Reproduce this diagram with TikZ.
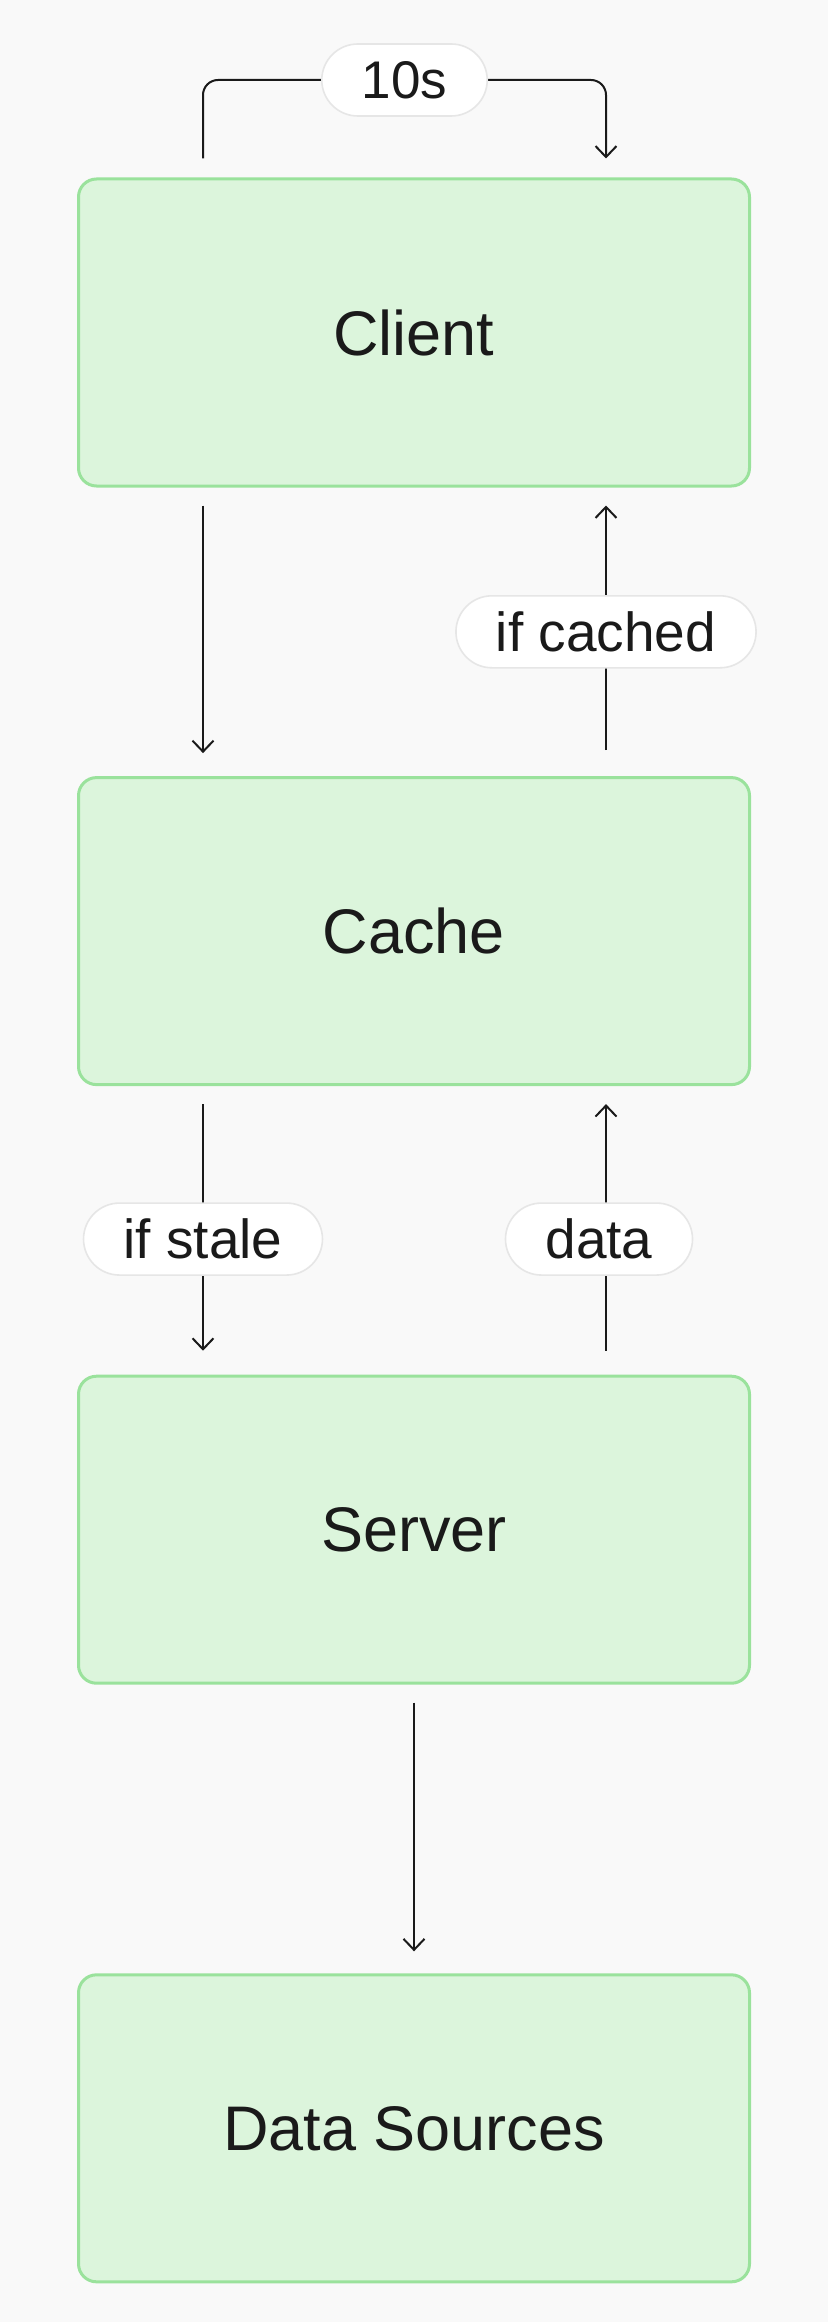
\documentclass[tikz,border=0pt]{standalone}
\usepackage{fontspec}
\setmainfont{Liberation Sans}
\usepackage{tikz}
\usetikzlibrary{arrows.meta,positioning}
\definecolor{boxfill}{HTML}{DCF5DC}
\definecolor{boxline}{HTML}{9AE29C}
\definecolor{pageback}{HTML}{F9F9F9}
\definecolor{tagline}{HTML}{E6E6E6}
\definecolor{ink}{HTML}{1A1A1A}

\begin{document}
\begin{tikzpicture}[x=0.5pt,y=-0.5pt,
  block/.style={draw=boxline,fill=boxfill,line width=1.5pt,rounded corners=9pt,minimum width=335.5pt,minimum height=153.5pt,text=ink,font=\fontsize{31.5}{36}\selectfont},
  tag/.style={draw=tagline,fill=white,line width=0.8pt,rounded corners=18pt,minimum height=36pt,inner xsep=20pt,text=ink,font=\fontsize{27.5}{30}\selectfont},
  flow/.style={draw=ink,line width=1pt,-{Straight Barb[length=5.5pt,width=10.5pt]}}]
\fill[pageback] (0,0) rectangle (828,2322);
\useasboundingbox (0,0) rectangle (828,2322);
% the four layers
\node[block] (client) at (414,332.5) {Client};
\node[block,below=144.3pt of client] (cache) {Cache};
\node[block,below=144.3pt of cache] (server) {Server};
\node[block,below=144.3pt of server] (sources) {Data Sources};
% arrow columns
\coordinate (lft) at (203,0);
\coordinate (rgt) at (606,0);
\coordinate (tl) at (203,80);
\coordinate (tr) at (606,80);
% refetch loop
\draw[flow,rounded corners=7.5pt,shorten <=9.5pt,shorten >=9.5pt] (client.north -| lft) -- (tl) -- node[tag,font=\fontsize{26.5}{30}\selectfont]{10s} (tr) -- (client.north -| rgt);
\draw[flow,shorten <=9pt,shorten >=11.5pt] (client.south -| lft) -- (cache.north -| lft);
\draw[flow,shorten <=13pt,shorten >=9pt] (cache.north -| rgt) -- node[tag]{if cached} (client.south -| rgt);
\draw[flow,shorten <=9pt,shorten >=12pt] (cache.south -| lft) -- node[tag,pos=0.53]{if stale} (server.north -| lft);
\draw[flow,shorten <=12pt,shorten >=9pt] (server.north -| rgt) -- node[tag,pos=0.47,xshift=-3.5pt]{data} (cache.south -| rgt);
\draw[flow,shorten <=9pt,shorten >=11pt] (server) -- (sources);
\end{tikzpicture}
\end{document}
